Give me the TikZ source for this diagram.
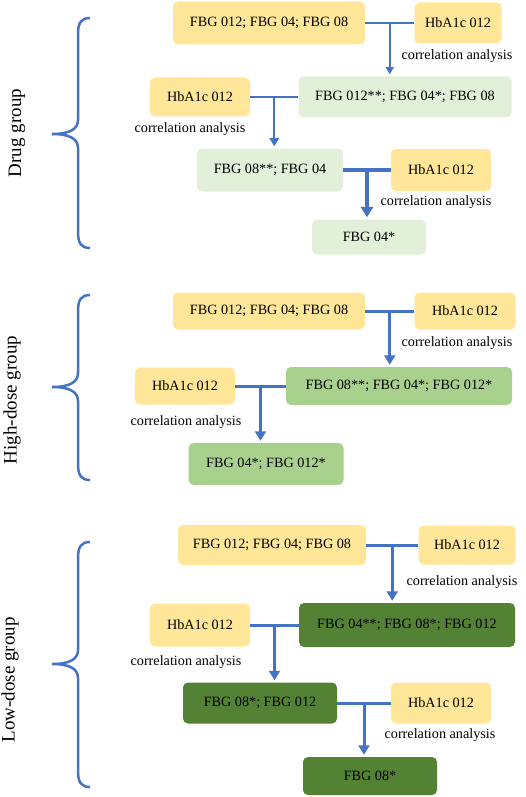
\documentclass[tikz,border=0pt]{standalone}
\usepackage{fontspec}
\setmainfont{Liberation Serif}
\usetikzlibrary{calc,arrows.meta}
\definecolor{boxyellow}{HTML}{FFE699}
\definecolor{lightgreen}{HTML}{E2F0D9}
\definecolor{midgreen}{HTML}{A9D18E}
\definecolor{darkgreen}{HTML}{548235}
\definecolor{linkblue}{HTML}{4472C4}

\begin{document}
\begin{tikzpicture}[x=1pt, y=-1pt,
    box/.style 2 args={rounded corners=5pt, inner sep=0pt, minimum width=#1, minimum height=#2, font=\fontsize{14.2}{17}\selectfont},
    note/.style={inner sep=0pt, font=\fontsize{14.2}{17}\selectfont},
    group/.style={rotate=90, inner sep=0pt, font=\fontsize{19}{22}\selectfont},
    link/.style={draw=linkblue, line width=#1},
    link/.default=3pt,
    flow/.style={link=#1, shorten >=2pt, -{Triangle[length=5pt 1.5, width=5.5pt 1.8]}},
    flow/.default=3pt]
    \useasboundingbox (0,0) rectangle (526,797);

    \foreach \t/\m/\b in {18/134/248, 295/387/480, 542/664/787}
        \draw[linkblue, line width=2.5pt] (90,\t) .. controls (81,\t) and (78,\t+5) .. (78,\t+16) -- (78,\m-14)
            .. controls (78,\m-5) and (70,\m) .. (52,\m) .. controls (70,\m) and (78,\m+5) .. (78,\m+14)
            -- (78,\b-16) .. controls (78,\b-5) and (81,\b) .. (90,\b);

    \node[group] (gd) at (17,133) {Drug group};
    \node[group] (gh) at (12,400) {High-dose group};
    \node[group] (gl) at (10,680) {Low-dose group};

    \node[box={192pt}{43pt}, fill=boxyellow] (d1) at (269,23) {FBG 012; FBG 04; FBG 08};
    \node[box={87pt}{41pt}, fill=boxyellow] (d2) at (458,23) {HbA1c 012};
    \node[note] (dc1) at (457,56) {correlation analysis};
    \node[box={213pt}{41pt}, fill=lightgreen] (d3) at (405,97) {FBG 012**; FBG 04*; FBG 08};
    \node[box={100pt}{39pt}, fill=boxyellow] (d4) at (200,97) {HbA1c 012};
    \node[note] (dc2) at (190,129) {correlation analysis};
    \node[box={146pt}{43pt}, fill=lightgreen] (d5) at (270,170) {FBG 08**; FBG 04};
    \node[box={100pt}{42pt}, fill=boxyellow] (d6) at (441,170) {HbA1c 012};
    \node[note] (dc3) at (436,202) {correlation analysis};
    \node[box={114pt}{35pt}, fill=lightgreen] (d7) at (369,237) {FBG 04*};

    \draw[link=1.5pt] (d1.east) -- (d2.west);
    \coordinate (dm1) at ($(d1.east)!.5!(d2.west)$);
    \draw[flow=1.5pt] (dm1) -- (dm1 |- d3.north);
    \draw[link=2.2pt] (d4.east) -- (d3.west);
    \coordinate (dm2) at ($(d4.east)!.5!(d3.west)$);
    \draw[flow=2.2pt] (dm2) -- (dm2 |- d5.north);
    \draw[link=3.6pt] (d5.east) -- (d6.west);
    \coordinate (dm3) at ($(d5.east)!.5!(d6.west)$);
    \draw[flow=3.6pt] (dm3) -- (dm3 |- d7.north);

    \node[box={192pt}{37pt}, fill=boxyellow] (h1) at (269,311) {FBG 012; FBG 04; FBG 08};
    \node[box={101pt}{37pt}, fill=boxyellow] (h2) at (465,311) {HbA1c 012};
    \node[note] (hc1) at (457,343) {correlation analysis};
    \node[box={226pt}{38pt}, fill=midgreen] (h3) at (399,386) {FBG 08**; FBG 04*; FBG 012*};
    \node[box={100pt}{37pt}, fill=boxyellow] (h4) at (185,386) {HbA1c 012};
    \node[note] (hc2) at (186,422) {correlation analysis};
    \node[box={155pt}{42pt}, fill=midgreen] (h5) at (266,464) {FBG 04*; FBG 012*};

    \draw[link] (h1.east) -- (h2.west);
    \coordinate (hm1) at ($(h1.east)!.5!(h2.west)$);
    \draw[flow] (hm1) -- (hm1 |- h3.north);
    \draw[link] (h4.east) -- (h3.west);
    \coordinate (hm2) at ($(h4.east)!.5!(h3.west)$);
    \draw[flow] (hm2) -- (hm2 |- h5.north);

    \node[box={188pt}{40pt}, fill=boxyellow] (l1) at (272,545) {FBG 012; FBG 04; FBG 08};
    \node[box={97pt}{39pt}, fill=boxyellow] (l2) at (467,545) {HbA1c 012};
    \node[note] (lc1) at (462,582) {correlation analysis};
    \node[box={216pt}{44pt}, fill=darkgreen] (l3) at (407,625) {FBG 04**; FBG 08*; FBG 012};
    \node[box={100pt}{43pt}, fill=boxyellow] (l4) at (200,625) {HbA1c 012};
    \node[note] (lc2) at (186,662) {correlation analysis};
    \node[box={154pt}{41pt}, fill=darkgreen] (l5) at (260,703) {FBG 08*; FBG 012};
    \node[box={100pt}{41pt}, fill=boxyellow] (l6) at (441,703) {HbA1c 012};
    \node[note] (lc3) at (440,735) {correlation analysis};
    \node[box={134pt}{38pt}, fill=darkgreen] (l7) at (370,776) {FBG 08*};

    \draw[link] (l1.east) -- (l2.west);
    \coordinate (lm1) at ($(l1.east)!.5!(l2.west)$);
    \draw[flow] (lm1) -- (lm1 |- l3.north);
    \draw[link] (l4.east) -- (l3.west);
    \coordinate (lm2) at ($(l4.east)!.5!(l3.west)$);
    \draw[flow] (lm2) -- (lm2 |- l5.north);
    \draw[link] (l5.east) -- (l6.west);
    \coordinate (lm3) at ($(l5.east)!.5!(l6.west)$);
    \draw[flow] (lm3) -- (lm3 |- l7.north);
\end{tikzpicture}
\end{document}
